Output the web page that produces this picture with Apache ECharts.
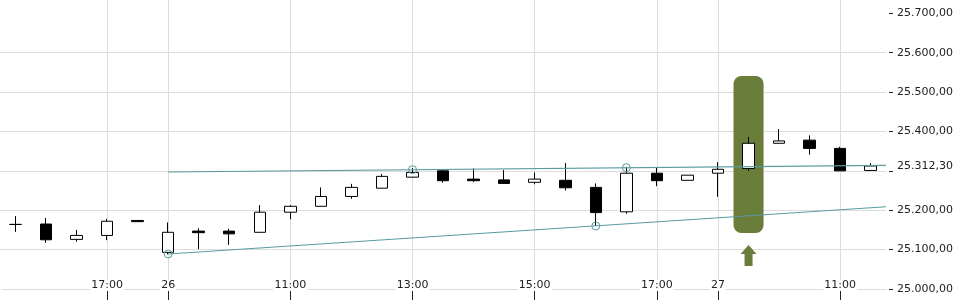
<!DOCTYPE html>
<html><head><meta charset="utf-8">
<script src="https://cdn.jsdelivr.net/npm/echarts@6/dist/echarts.min.js"></script>
<style>html,body{margin:0;padding:0;background:#fff}#c{width:960px;height:300px}</style>
</head><body><div id="c"></div>
<script>
// ---- data ----
const categories = ['25 15:00','25 15:30','25 16:00','25 16:30','25 17:00','25 17:30',
  '26 09:00','26 09:30','26 10:00','26 10:30','26 11:00','26 11:30','26 12:00','26 12:30',
  '26 13:00','26 13:30','26 14:00','26 14:30','26 15:00','26 15:30','26 16:00','26 16:30',
  '26 17:00','26 17:30','27 09:00','27 09:30','27 10:00','27 10:30','27 11:00','27 11:30'];
const opens  = [null,25164,25165,25126,25136,25174,25093,25147,25147,25144,25195,25210,25235,25256,25284,25300,25279,25277,25271,25276,25258,25196,25294,25276,25294,25306,25370,25378,25357,25301];
const closes = [null,25164,25125,25136,25172,25171,25144,25143,25140,25195,25210,25235,25258,25286,25296,25275,25275,25268,25279,25257,25194,25294,25275,25289,25304,25370,25376,25357,25300,25312.3];
const lows   = [null,25145,25117,25120,25124,25171,25088,25101,25112,25144,25177,25210,25229,25256,25283,25270,25272,25267,25266,25250,25160,25191,25261,25276,25234,25300,25370,25341,25300,25301];
const highs  = [null,25185,25180,25150,25178,25174,25169,25154,25153,25213,25213,25258,25267,25292,25307,25302,25306,25302,25296,25320,25268,25310,25309,25289,25322,25386,25406,25390,25361,25320];
const xTickIdx = [0,4,6,10,14,18,22,24,28];
const yTickValues = [25000,25100,25200,25300,25400,25500,25600,25700];
const yLabelValues = [25000,25100,25200,25312.3,25400,25500,25600,25700];
const upperTrend = [[6,25297],[29.5,25314]];
const lowerTrend = [[6,25089],[29.5,25209]];
const pivots = [[6,25089],[14,25303],[20,25160],[21,25308]];
const highlight = [[25,25142,25541]];
const arrowPoint = [[25,25085]];

function fmtDE(v){ const p = v.toFixed(2).split('.'); return p[0].replace(/\B(?=(\d{3})+(?!\d))/g,'.') + ',' + p[1]; }
function xLabel(idx){ const s = categories[Math.round(idx)]; if(!s) return ''; const [d,t] = s.split(' '); return t==='09:00' ? d : t; }

const candleData = opens.map((o,i)=> o==null ? '-' : [o, closes[i], lows[i], highs[i]]);
const TEAL = '#5a9ba0';
const GRID = '#dcdcdc';
const TXT = '#222';
const OLIVE = '#6a7d3a';

const chart = echarts.init(document.getElementById('c'));
chart.setOption({
  animation:false,
  backgroundColor:'#fff',
  textStyle:{fontFamily:'DejaVu Sans'},
  grid:{left:-30.4, right:74, top:0, bottom:11, containLabel:false, outerBoundsMode:'none'},
  xAxis:[
    {type:'category', data:categories, boundaryGap:true, show:false},
    {type:'value', min:-0.5, max:29.5, position:'bottom', z:1,
     axisLine:{show:true, onZero:false, lineStyle:{color:GRID, width:1}},
     axisTick:{show:true, customValues:xTickIdx, length:12, lineStyle:{color:TXT}},
     axisLabel:{show:true, customValues:xTickIdx, showMinLabel:true, hideOverlap:false, formatter:xLabel, margin:-9, fontSize:11, color:TXT,
       fontFamily:'DejaVu Sans', backgroundColor:'#fff', padding:[0,1]},
     splitLine:{show:true, lineStyle:{color:GRID, width:1}}}
  ],
  yAxis:{type:'value', position:'right', min:25000, max:25733.8, offset:3,
    axisLine:{show:false, onZero:false},
    axisTick:{show:true, customValues:yTickValues, length:4, lineStyle:{color:TXT}},
    axisLabel:{customValues:yLabelValues, formatter:fmtDE, margin:8, fontSize:11, color:TXT, fontFamily:'DejaVu Sans'},
    splitLine:{show:true, showMinLine:false, showMaxLine:false, lineStyle:{color:GRID, width:1}}},
  series:[
    {type:'custom', xAxisIndex:0, z:2, data:highlight, clip:false,
     renderItem:(params, api)=>{
       const top = api.coord([api.value(0), api.value(2)]);
       const bot = api.coord([api.value(0), api.value(1)]);
       const w = api.size([1,0])[0] - 0.5;
       return {type:'rect', shape:{x:top[0]-w/2, y:top[1], width:w, height:bot[1]-top[1], r:8}, style:{fill:OLIVE}};
     }},
    {type:'candlestick', xAxisIndex:0, z:3, data:candleData, barWidth:12,
     itemStyle:{color:'#fff', color0:'#000', borderColor:'#000', borderColor0:'#000', borderWidth:1}},
    {type:'line', xAxisIndex:1, z:4, data:upperTrend, symbol:'none', lineStyle:{color:TEAL, width:1.1}},
    {type:'line', xAxisIndex:1, z:4, data:lowerTrend, symbol:'none', lineStyle:{color:TEAL, width:1.1}},
    {type:'scatter', xAxisIndex:1, z:5, data:pivots, symbol:'circle', symbolSize:8,
     itemStyle:{color:'rgba(255,255,255,0)', borderColor:TEAL, borderWidth:1, opacity:1}},
    {type:'scatter', xAxisIndex:1, z:5, data:arrowPoint, symbol:'path://M8,0 L16,9 L12,9 L12,21 L4,21 L4,9 L0,9 Z',
     symbolSize:[16,21], itemStyle:{color:OLIVE, opacity:1}}
  ]
});
</script></body></html>
